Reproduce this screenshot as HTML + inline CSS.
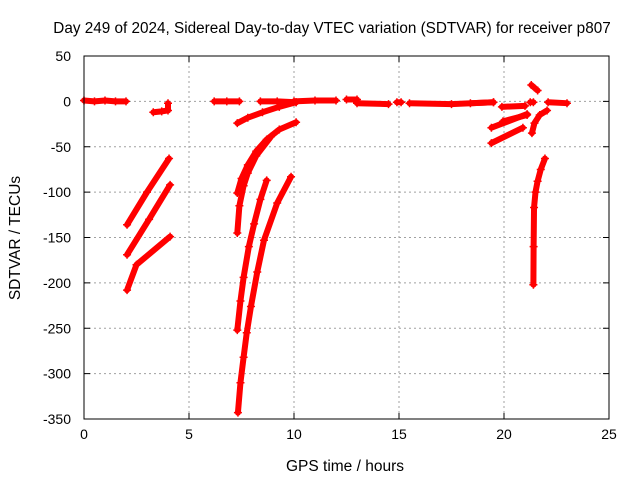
<!DOCTYPE html>
<html><head><meta charset="utf-8"><style>
body{margin:0;background:#fff;}
svg text{font-family:"Liberation Sans",sans-serif;fill:#000;}
</style></head><body>
<svg id="chart" width="640" height="480" xmlns="http://www.w3.org/2000/svg">
<text x="332" y="33" font-size="15.3" text-anchor="middle">Day 249 of 2024, Sidereal Day-to-day VTEC variation (SDTVAR) for receiver p807</text>
<text x="345" y="471" font-size="15.5" text-anchor="middle">GPS time / hours</text>
<text transform="translate(20,238) rotate(-90)" font-size="15.5" text-anchor="middle">SDTVAR / TECUs</text>
<g id="grid"></g>
<g id="ticks"></g>
<g id="series"></g>
<rect x="84" y="56" width="525" height="363" fill="none" stroke="#000" stroke-width="1"/>
</svg>
<script>
const xTicks=[0,5,10,15,20,25];
const yTicks=[50,0,-50,-100,-150,-200,-250,-300,-350];
// each segment: hours and values
const segHours=[
[0,0.5,1,1.5,2.0],
[3.3,3.7,4.0,4.0],
[2.05,3.0,4.05],
[2.05,3.1,4.1],
[2.05,2.5,4.1],
[6.2,6.8,7.4],
[8.4,9.2,10.1],
[7.3,7.8,8.5,9.3,10.1],
[7.3,7.5,7.8,8.2,8.7,9.3,10.1],
[7.3,7.4,7.6,7.8,8.2,8.9],
[7.3,7.45,7.6,7.85,8.1,8.4,8.7],
[7.33,7.45,7.6,7.75,7.95,8.25,8.57,9.2,9.86],
[10.0,11.0,12.0],
[12.5,13.0],
[13.0,14.5],
[14.9,15.1],
[15.5,17.5,19.5],
[18.4,19.5],
[19.9,21.0],
[19.4,21.1],
[19.4,20.9],
[19.95,21.1],
[21.3,21.6],
[21.25,21.4],
[22.1,23.0],
[21.33,21.45,21.7,22.05],
[21.4,21.41,21.43,21.5,21.6,21.75,21.95]
];
const segValues=[
[1,0,1,0,0],
[-12,-11,-10,-2],
[-136,-100,-63],
[-169,-130,-92],
[-208,-180,-149],
[0,0,0],
[0,0,-1],
[-24,-18,-12,-6,-1],
[-101,-85,-70,-55,-42,-31,-23],
[-145,-115,-93,-79,-60,-39],
[-252,-220,-194,-160,-135,-108,-87],
[-343,-310,-282,-255,-226,-188,-153,-112,-83],
[0,1,1],
[2,2],
[-2,-3],
[-1,-1],
[-2,-3,-1],
[-2,-1],
[-6,-5],
[-29,-14],
[-46,-29],
[-22,-15],
[18,12],
[-1,-1],
[-1,-2],
[-35,-24,-15,-10],
[-202,-160,-117,-100,-88,-75,-63]
];
const X0=84,X1=609,Y0=419,Y1=56,xmin=0,xmax=25,ymin=-350,ymax=50;
const sx=h=>X0+(h-xmin)/(xmax-xmin)*(X1-X0);
const sy=v=>Y0-(v-ymin)/(ymax-ymin)*(Y0-Y1);
const NS="http://www.w3.org/2000/svg";
function mk(t,a,p){const e=document.createElementNS(NS,t);for(const k in a)e.setAttribute(k,a[k]);p.appendChild(e);return e;}
const grid=document.getElementById('grid'),ticks=document.getElementById('ticks'),ser=document.getElementById('series');
xTicks.forEach(t=>{const x=sx(t);
 if(t>xmin&&t<xmax){const g=mk('line',{x1:x,x2:x,y1:Y1,y2:Y0,stroke:'#a0a0a0','stroke-dasharray':'2,3'},grid);
 
 }
 mk('line',{x1:x,x2:x,y1:Y0,y2:Y0-6,stroke:'#000'},ticks);mk('line',{x1:x,x2:x,y1:Y1,y2:Y1+6,stroke:'#000'},ticks);
 const l=mk('text',{x:x,y:Y0+20,'font-size':14,'text-anchor':'middle'},ticks);l.textContent=t;
 
 });
yTicks.forEach(t=>{const y=sy(t);
 if(t>ymin&&t<ymax){const g=mk('line',{x1:X0,x2:X1,y1:y,y2:y,stroke:'#a0a0a0','stroke-dasharray':'2,3'},grid);
 
 }
 mk('line',{x1:X0,x2:X0+6,y1:y,y2:y,stroke:'#000'},ticks);mk('line',{x1:X1,x2:X1-6,y1:y,y2:y,stroke:'#000'},ticks);
 const l=mk('text',{x:X0-13,y:y+5,'font-size':14,'text-anchor':'end'},ticks);l.textContent=t;
 
 });
segHours.forEach((hs,i)=>{const vs=segValues[i];
 const pts=hs.map((h,j)=>sx(h)+','+sy(vs[j])).join(' ');
 const p=mk('polyline',{points:pts,fill:'none',stroke:'#ff0000','stroke-width':6,'stroke-linejoin':'round','stroke-linecap':'round'},ser);
 
 
 hs.forEach((h,j)=>{const x=sx(h),y=sy(vs[j]);
  const m=mk('path',{d:`M${x-4},${y}H${x+4}M${x},${y-4}V${y+4}`,stroke:'#ff0000','stroke-width':1.5},ser);
  
  });
});
</script>
</body></html>
